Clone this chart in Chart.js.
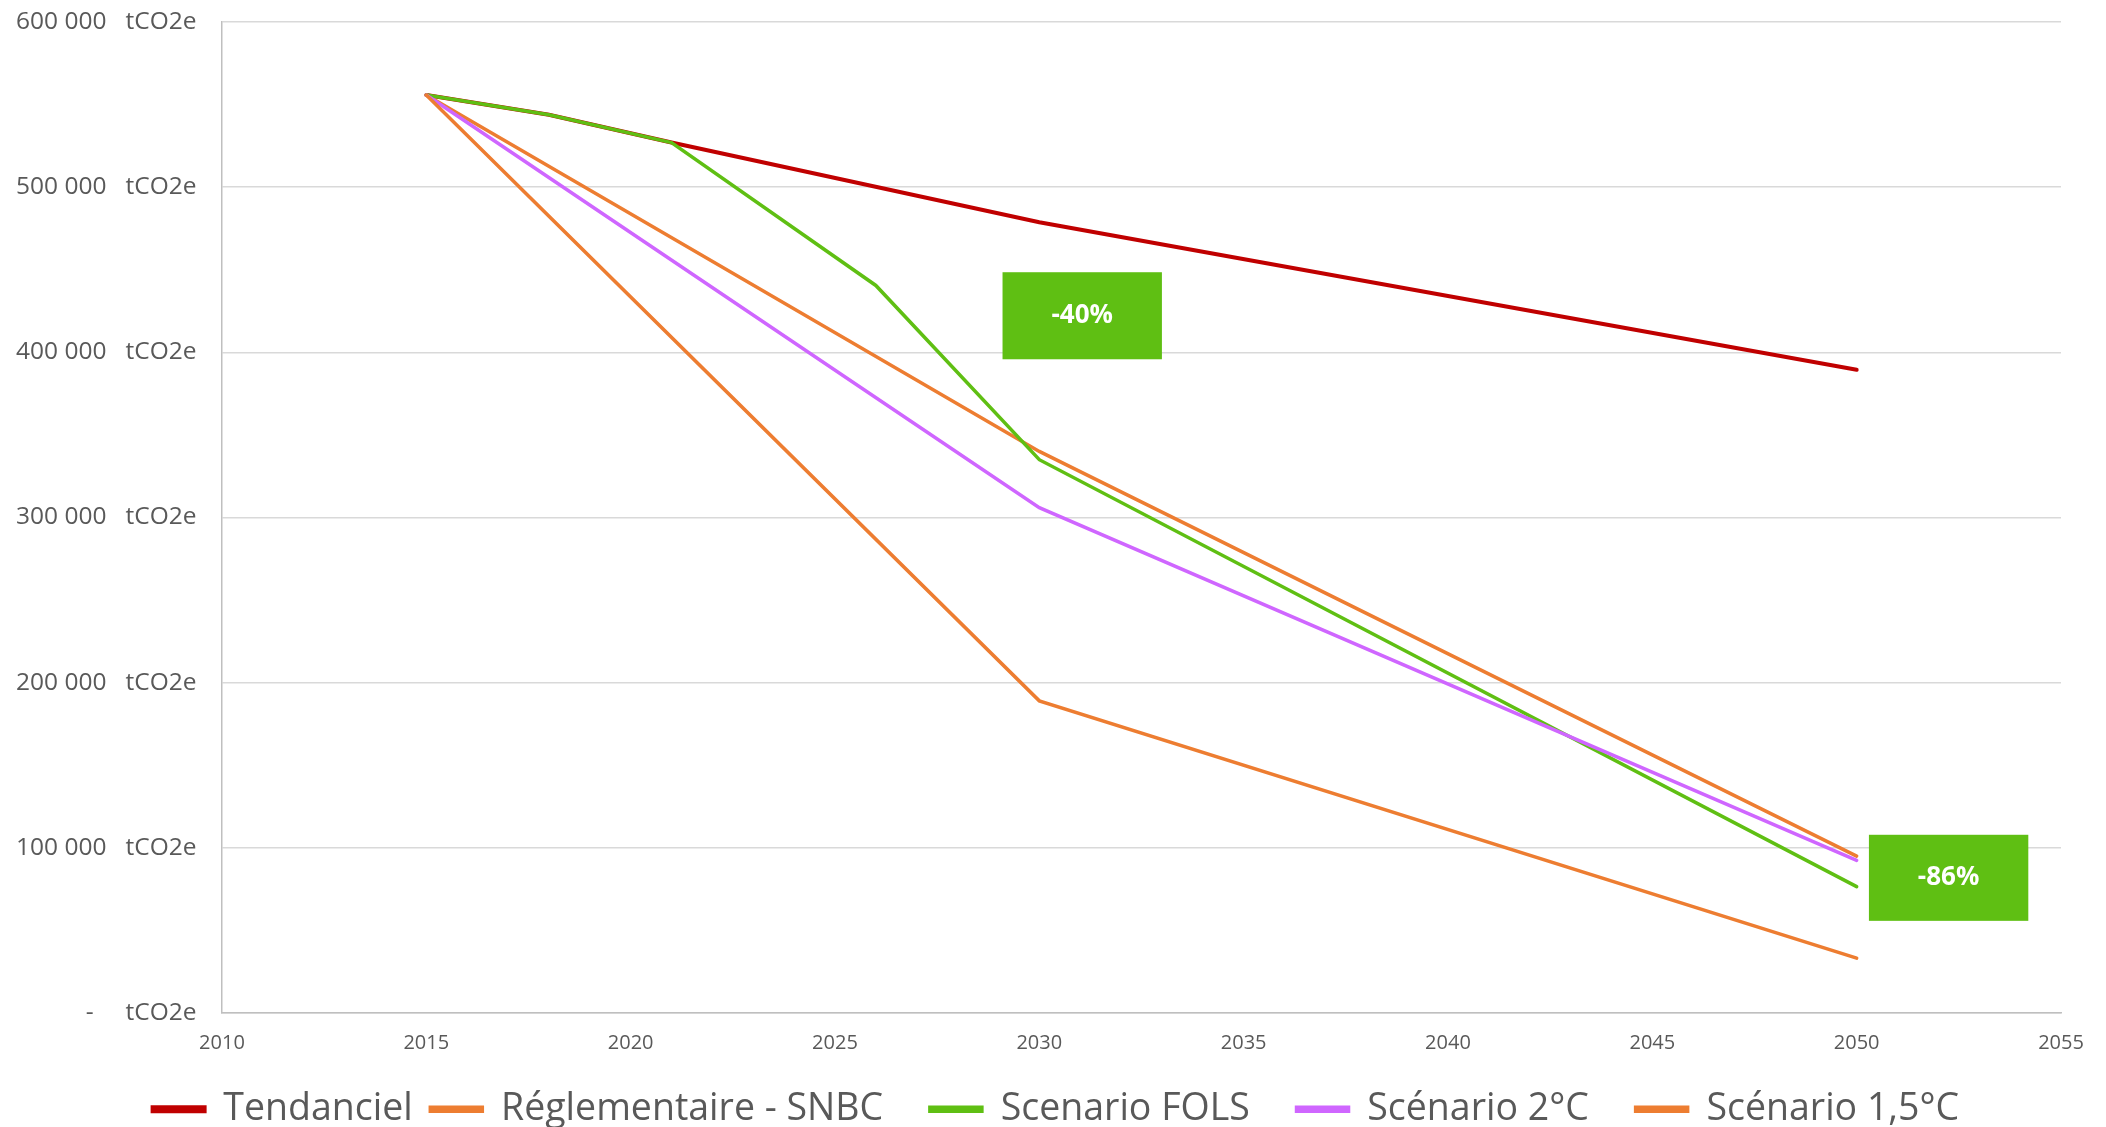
<!DOCTYPE html>
<html>
<head>
<meta charset="utf-8">
<script src="https://cdn.jsdelivr.net/npm/chart.js@4.4.1/dist/chart.umd.min.js"></script>
<style>
  html, body { margin: 0; padding: 0; background: #fff; }
  #wrap { width: 2106px; height: 1127px; }
</style>
</head>
<body>
<div id="wrap"><canvas id="myChart"></canvas></div>
<script>
// series names
const seriesNames = ["Tendanciel", "Réglementaire - SNBC", "Scenario FOLS", "Scénario 2°C", "Scénario 1,5°C"];

// years and values (tCO2e)
const tendancielYears = [2015, 2018, 2021, 2030, 2050];
const tendancielValues = [555800, 543800, 527000, 478800, 389400];

const snbcYears = [2015, 2030, 2050];
const snbcValues = [555800, 340000, 95000];

const folsYears = [2015, 2018, 2021, 2026, 2030, 2050];
const folsValues = [555800, 543800, 527000, 440500, 335000, 76500];

const deuxDegresYears = [2015, 2030, 2050];
const deuxDegresValues = [555800, 306000, 92400];

const unCinqYears = [2015, 2030, 2050];
const unCinqValues = [555800, 189000, 33200];

// axis ticks
const xTicks = [2010, 2015, 2020, 2025, 2030, 2035, 2040, 2045, 2050, 2055];
const yTicks = [0, 100000, 200000, 300000, 400000, 500000, 600000];

// green labels
const boxLabels = ["-40%", "-86%"];

const colors = ["#C00000", "#ED7D31", "#5FBF13", "#CF66FF", "#ED7D31"];
const widths = [4, 3.5, 3.5, 3.5, 3.5];

function toPoints(xs, ys) {
    return xs.map(function (x, i) { return { x: x, y: ys[i] } });
}

const allSeries = [
    toPoints(tendancielYears, tendancielValues),
    toPoints(snbcYears, snbcValues),
    toPoints(folsYears, folsValues),
    toPoints(deuxDegresYears, deuxDegresValues),
    toPoints(unCinqYears, unCinqValues),
];

// trailing spaces keep the gap to the axis (ticks.padding would also push the top down)
function fmtY(v) {
    if (v === 0) return "-     tCO2e    ";
    const s = String(v).replace(/\B(?=(\d{3})+(?!\d))/g, " ");
    return s + "   tCO2e    ";
}

// annotation boxes, in data units
const boxes = [
    { text: boxLabels[0], x0: 2029.1, x1: 2033.0, y0: 448500, y1: 395800 },
    { text: boxLabels[1], x0: 2050.3, x1: 2054.2, y0: 107900, y1: 55800 },
];

const boxPlugin = {
    id: "boxes",
    afterLayout(chart) {
        // nudge legend row to the right, like the original
        chart.legend.left += 32;
        chart.legend.right += 32;
    },
    afterDatasetsDraw(chart) {
        const ctx = chart.ctx;
        const xs = chart.scales.x, ys = chart.scales.y;
        ctx.save();
        boxes.forEach(function (b) {
            const l = xs.getPixelForValue(b.x0), r = xs.getPixelForValue(b.x1);
            const t = ys.getPixelForValue(b.y0), bt = ys.getPixelForValue(b.y1);
            ctx.fillStyle = "#5FBF13";
            ctx.fillRect(l, t, r - l, bt - t);
            ctx.fillStyle = "#ffffff";
            ctx.font = "bold 26px 'Open Sans'";
            ctx.textAlign = "center";
            ctx.textBaseline = "middle";
            ctx.fillText(b.text, (l + r) / 2, (t + bt) / 2);
        });
        ctx.restore();
    }
};

const config = {
    type: "line",
    data: {
        datasets: seriesNames.map(function (name, i) {
            return {
                label: name,
                data: allSeries[i],
                borderColor: colors[i],
                backgroundColor: colors[i],
                borderWidth: widths[i],
                pointRadius: 0,
                tension: 0,
                fill: false,
                borderCapStyle: "round",
                order: 5 - i,
            };
        }),
    },
    options: {
        responsive: true,
        maintainAspectRatio: false,
        animation: false,
        layout: { padding: { left: 16, right: 45, top: 22, bottom: -11 } },
        plugins: {
            legend: {
                position: "bottom",
                labels: {
                    boxWidth: 52,
                    boxHeight: 4,
                    padding: 17.5,
                    color: "#595959",
                    font: { family: "'Open Sans'", size: 37.5 },
                    generateLabels: function (chart) {
                        const items = Chart.defaults.plugins.legend.labels.generateLabels(chart);
                        items.forEach(function (it, i) {
                            if (i < items.length - 1) it.text = it.text + "   ";
                        });
                        return items;
                    },
                    sort: function (a, b) { return a.datasetIndex - b.datasetIndex },
                },
            },
            tooltip: { enabled: false },
        },
        scales: {
            x: {
                type: "linear",
                min: 2010,
                max: 2055,
                afterBuildTicks: function (axis) {
                    axis.ticks = xTicks.map(function (v) { return { value: v } });
                },
                grid: { display: false, drawTicks: false },
                border: { display: true, color: "#BFBFBF", width: 1.5 },
                ticks: {
                    padding: 18,
                    color: "#595959",
                    font: { family: "'Open Sans'", size: 20 },
                    maxRotation: 0,
                    callback: function (v) { return String(v) },
                },
            },
            y: {
                min: 0,
                max: 600000,
                afterBuildTicks: function (axis) {
                    axis.ticks = yTicks.map(function (v) { return { value: v } });
                },
                grid: { color: "#D9D9D9", lineWidth: 1.5, drawTicks: false },
                border: { display: true, color: "#BFBFBF", width: 1.5 },
                ticks: {
                    padding: 0,
                    color: "#595959",
                    font: { family: "'Open Sans'", size: 24.5 },
                    callback: fmtY,
                },
            },
        },
    },
    plugins: [boxPlugin],
};

var myChart = new Chart(document.getElementById("myChart"), config);
</script>
</body>
</html>
